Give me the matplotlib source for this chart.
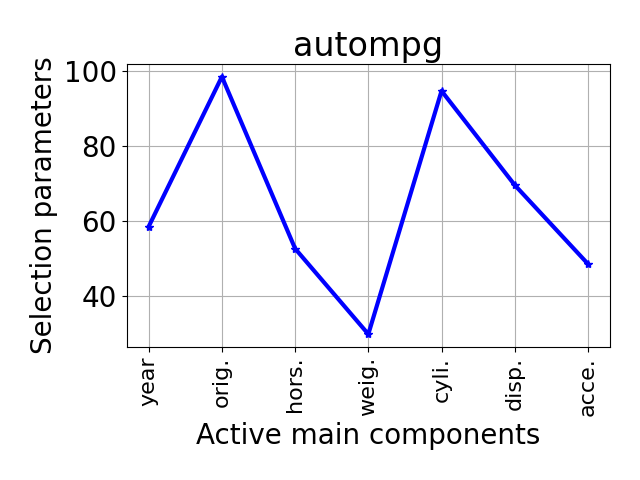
import matplotlib
matplotlib.use("Agg")
import matplotlib.pyplot as plt

categories = ["year", "orig.", "hors.", "weig.", "cyli.", "disp.", "acce."]
values = [58.5, 98.6, 52.6, 29.7, 94.8, 69.6, 48.5]

fig, ax = plt.subplots(figsize=(6.4, 4.8), dpi=100)
ax.plot(categories, values, color="blue", marker="*", linewidth=3, markersize=6)
ax.set_title("autompg", fontsize=24)
ax.set_xlabel("Active main components", fontsize=20)
ax.set_ylabel("Selection parameters", fontsize=20)
ax.tick_params(axis="y", labelsize=20)
ax.tick_params(axis="x", labelsize=16, rotation=90)
ax.grid(True)
fig.subplots_adjust(left=0.198, right=0.953, top=0.867, bottom=0.277)
fig.savefig("out.png")
